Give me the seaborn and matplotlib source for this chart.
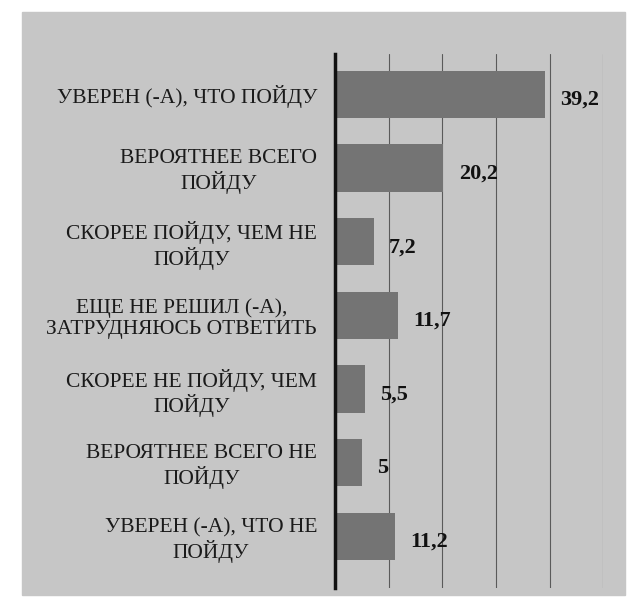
import pandas as pd
import matplotlib.pyplot as plt
import matplotlib.patches as mpatches
import seaborn as sns

sns.set_style("white")
plt.rcParams["font.family"] = ["Liberation Serif", "DejaVu Serif"]

answers = [
    "УВЕРЕН (-А), ЧТО ПОЙДУ",
    "ВЕРОЯТНЕЕ ВСЕГО\nПОЙДУ",
    "СКОРЕЕ ПОЙДУ, ЧЕМ НЕ\nПОЙДУ",
    "ЕЩЕ НЕ РЕШИЛ (-А),\nЗАТРУДНЯЮСЬ ОТВЕТИТЬ",
    "СКОРЕЕ НЕ ПОЙДУ, ЧЕМ\nПОЙДУ",
    "ВЕРОЯТНЕЕ ВСЕГО НЕ\nПОЙДУ",
    "УВЕРЕН (-А), ЧТО НЕ\nПОЙДУ",
]
share = [39.2, 20.2, 7.2, 11.7, 5.5, 5.0, 11.2]
share_labels = ["39,2", "20,2", "7,2", "11,7", "5,5", "5", "11,2"]

df = pd.DataFrame({"answer": answers, "share": share})

bg = "#c6c6c6"
fig = plt.figure(figsize=(6.31, 6.10), dpi=100, facecolor="white")
# grey sheet behind the chart
fig.patches.append(mpatches.Rectangle((0.035, 0.025), 0.955, 0.955,
                                      transform=fig.transFigure, color=bg, zorder=-10))

ax = fig.add_axes([0.531, 0.036, 0.425, 0.876])
ax.set_facecolor(bg)

sns.barplot(data=df, x="share", y="answer", color="#747474", saturation=1,
            width=0.64, linewidth=0, ax=ax)

for i, txt in enumerate(share_labels):
    ax.annotate(txt, (share[i], i), xytext=(11, -4), textcoords="offset points",
                ha="left", va="center", fontsize=16, fontweight="bold", color="#111111")

ax.set_xlim(0, 50)
ax.set_ylim(6.7, -0.55)
ax.set_xticks([10, 20, 30, 40, 50])
ax.set_xticklabels([])
ax.grid(axis="x", color="#5a5a5a", linewidth=0.8)
ax.set_axisbelow(True)
ax.tick_params(axis="both", length=0)

for s in ["top", "right", "bottom"]:
    ax.spines[s].set_visible(False)
ax.spines["left"].set_linewidth(2.5)
ax.spines["left"].set_color("#111111")

ax.set_xlabel("")
ax.set_ylabel("")
for lab in ax.get_yticklabels():
    lab.set_multialignment("center")
    lab.set_fontsize(15.5)
    lab.set_linespacing(1.15)
    lab.set_color("#1a1a1a")
ax.tick_params(axis="y", pad=13)

fig.savefig("out.png", dpi=100, facecolor="white")
